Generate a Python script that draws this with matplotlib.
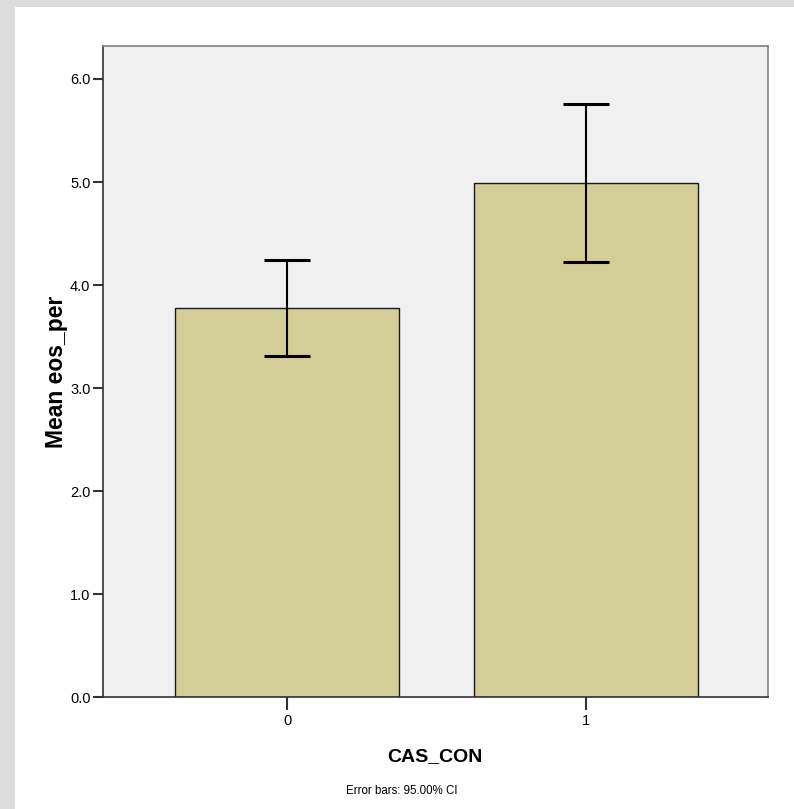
import matplotlib.pyplot as plt
from matplotlib.patches import Rectangle
import numpy as np

plt.rcParams['font.family'] = ['Liberation Sans', 'DejaVu Sans']

# Data
groups = ['0', '1']
means = [3.78, 4.99]
ci_low = [3.31, 4.225]
ci_high = [4.24, 5.755]
y_ticks = [0.0, 1.0, 2.0, 3.0, 4.0, 5.0, 6.0]

fig = plt.figure(figsize=(7.94, 8.09), dpi=100)
fig.patch.set_facecolor('white')

# grey frame bands at top and left
fig.patches.append(Rectangle((0, 1 - 7 / 809), 1, 7 / 809, transform=fig.transFigure,
                             facecolor='#dcdcdc', edgecolor='none', zorder=0))
fig.patches.append(Rectangle((0, 0), 15 / 794, 1, transform=fig.transFigure,
                             facecolor='#dcdcdc', edgecolor='none', zorder=0))

ax = fig.add_axes([0.1297, 0.1384, 0.8375, 0.8047])
ax.set_facecolor('#f0f0f0')

x = np.arange(len(groups))
err = [np.array(means) - np.array(ci_low), np.array(ci_high) - np.array(means)]
ax.bar(x, means, width=0.75, color='#d3ce98', edgecolor='#1a1a1a', linewidth=1.0, zorder=2)
ax.errorbar(x, means, yerr=err, fmt='none', ecolor='black', elinewidth=1.5,
            capsize=16.5, capthick=2.2, zorder=3)

ax.set_xlim(-0.617, 1.611)
ax.set_ylim(0, 6.32)
ax.set_xticks(x)
ax.set_xticklabels(groups)
ax.set_yticks(y_ticks)
ax.set_yticklabels([f'{v:.1f}' for v in y_ticks])

ax.tick_params(axis='y', length=7, width=1.5, direction='out', labelsize=10.5, pad=2, color='#333333')
ax.tick_params(axis='x', length=9, width=1.5, direction='out', labelsize=10.5, pad=3, color='#333333')

for side in ['top', 'right']:
    ax.spines[side].set_color('#808080')
    ax.spines[side].set_linewidth(1.2)
for side in ['left', 'bottom']:
    ax.spines[side].set_color('#333333')
    ax.spines[side].set_linewidth(1.2)

ax.set_ylabel('Mean eos_per', fontsize=16.5, fontweight='bold')
ax.yaxis.set_label_coords(-0.052, 0.5)

fig.text(435 / 794, 1 - 757 / 809, 'CAS_CON', ha='center', va='center', fontsize=14, fontweight='bold')
fig.text(402 / 794, 1 - 791 / 809, 'Error bars: 95.00% CI', ha='center', va='center', fontsize=8.3)

fig.savefig('out.png', dpi=100)
